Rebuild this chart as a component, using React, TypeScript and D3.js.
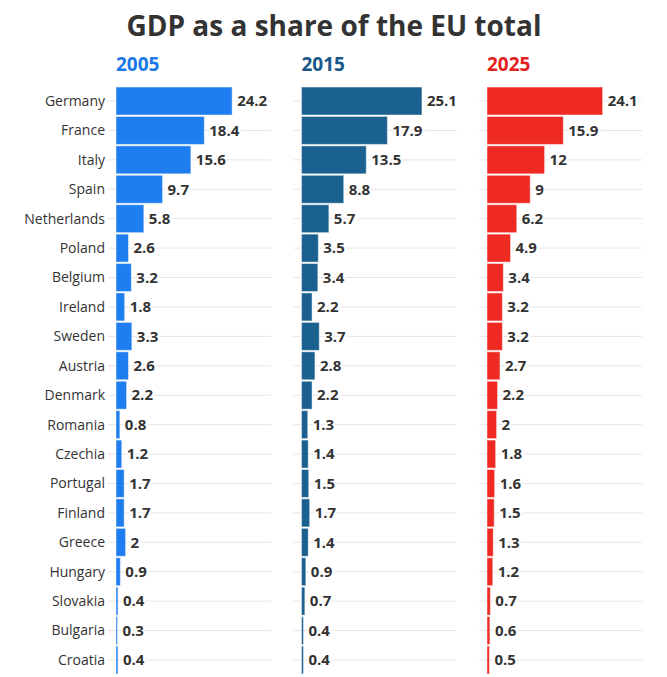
import * as d3 from 'd3';

const countries = [
  'Germany', 'France', 'Italy', 'Spain', 'Netherlands', 'Poland', 'Belgium',
  'Ireland', 'Sweden', 'Austria', 'Denmark', 'Romania', 'Czechia', 'Portugal',
  'Finland', 'Greece', 'Hungary', 'Slovakia', 'Bulgaria', 'Croatia',
];

const years = ['2005', '2015', '2025'];

const share2005 = [24.2, 18.4, 15.6, 9.7, 5.8, 2.6, 3.2, 1.8, 3.3, 2.6, 2.2, 0.8, 1.2, 1.7, 1.7, 2, 0.9, 0.4, 0.3, 0.4];
const share2015 = [25.1, 17.9, 13.5, 8.8, 5.7, 3.5, 3.4, 2.2, 3.7, 2.8, 2.2, 1.3, 1.4, 1.5, 1.7, 1.4, 0.9, 0.7, 0.4, 0.4];
const share2025 = [24.1, 15.9, 12, 9, 6.2, 4.9, 3.4, 3.2, 3.2, 2.7, 2.2, 2, 1.8, 1.6, 1.5, 1.3, 1.2, 0.7, 0.6, 0.5];

const series = [share2005, share2015, share2025];
const colors = ['#1e7ef0', '#1a6190', '#ee2a22'];
const headColors = ['#1a78e6', '#17588a', '#e3221d'];

const width = 667;
const height = 677;
const panelWidth = 155;
const font = '"Open Sans", "Noto Sans", sans-serif';

const App = () => {
  const fx = d3.scaleBand().domain(years).range([116, 116 + 3 * 185.5]).paddingInner(0);
  const y = d3
    .scaleBand()
    .domain(countries)
    .range([86.3, 86.3 + countries.length * 29.42])
    .paddingInner(0.05)
    .paddingOuter(0.025);
  const x = d3.scaleLinear().domain([0, 32.3]).range([0, panelWidth]);

  return (
    <svg
      width={width}
      height={height}
      style={{ position: 'absolute', left: 0, top: 0, background: '#fff' }}
      fontFamily={font}
    >
      <text x={334} y={36} textAnchor="middle" fontSize={28} fontWeight="bold" fill="#333">
        GDP as a share of the EU total
      </text>

      {countries.map(c => (
        <text
          key={c}
          x={105}
          y={(y(c) ?? 0) + y.bandwidth() / 2}
          dy="0.35em"
          textAnchor="end"
          fontSize={14}
          fill="#333"
        >
          {c}
        </text>
      ))}

      {years.map((yr, k) => {
        const x0 = fx(yr) ?? 0;
        return (
          <g key={yr} transform={`translate(${x0},0)`}>
            <text x={0} y={71} fontSize={19} fontWeight="bold" fill={headColors[k]}>
              {yr}
            </text>
            {/* gridlines */}
            {countries.map(c => {
              const cy = (y(c) ?? 0) + y.bandwidth() / 2;
              return (
                <line key={c} x1={-8} x2={panelWidth} y1={cy} y2={cy} stroke="#e6e6e6" strokeWidth={1} />
              );
            })}
            {/* bars */}
            {countries.map((c, i) => (
              <rect
                key={c}
                x={0}
                y={y(c) ?? 0}
                width={x(series[k][i])}
                height={y.bandwidth()}
                fill={colors[k]}
                stroke="#fff"
                strokeOpacity={0.45}
                strokeWidth={1}
              />
            ))}
            {/* value labels */}
            {countries.map((c, i) => (
              <text
                key={c}
                x={x(series[k][i]) + 5}
                y={(y(c) ?? 0) + y.bandwidth() / 2}
                dy="0.35em"
                fontSize={15}
                fontWeight="bold"
                fill="#333"
                stroke="#fff"
                strokeWidth={4}
                strokeLinejoin="round"
                paintOrder="stroke"
              >
                {series[k][i]}
              </text>
            ))}
          </g>
        );
      })}
    </svg>
  );
};

export default App;
